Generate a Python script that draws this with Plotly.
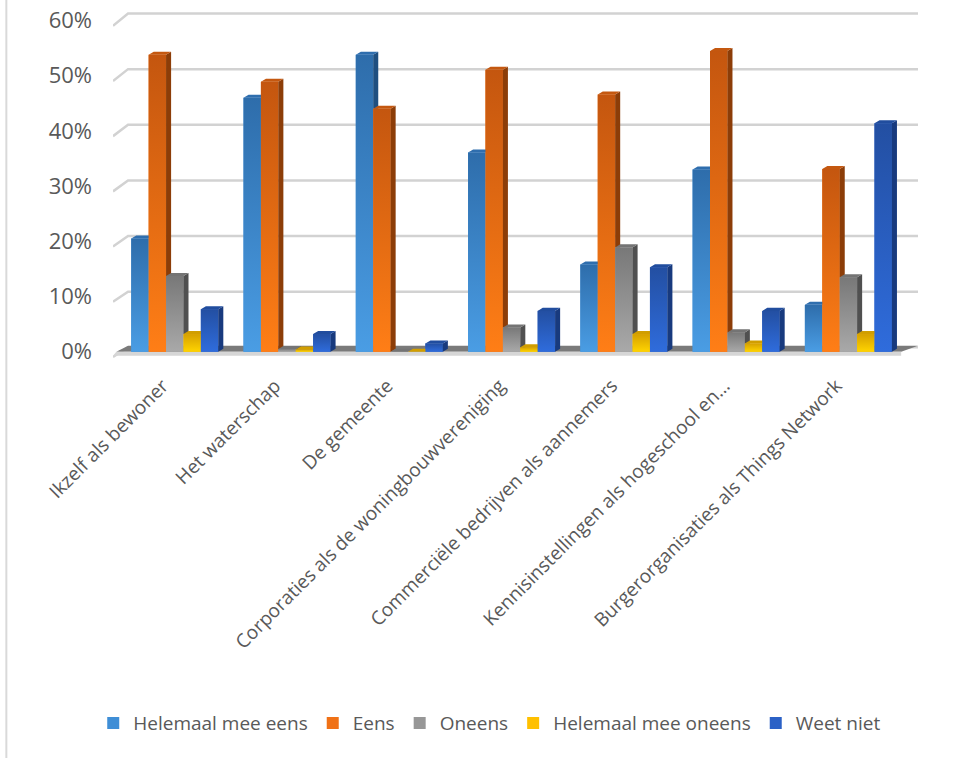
import plotly.graph_objects as go

# Survey: who should act (share of respondents per answer)
categories = [
    "Ikzelf als bewoner",
    "Het waterschap",
    "De gemeente",
    "Corporaties als de woningbouwvereniging",
    "Commerciële bedrijven als aannemers",
    "Kennisinstellingen als hogeschool en…",
    "Burgerorganisaties als Things Network",
]
series_names = ["Helemaal mee eens", "Eens", "Oneens", "Helemaal mee oneens", "Weet niet"]

helemaal_mee_eens = [20.5, 46.0, 53.8, 36.1, 15.8, 33.0, 8.5]
eens = [53.8, 48.9, 44.0, 51.1, 46.6, 54.5, 33.1]
oneens = [13.7, 0.5, 0.0, 4.4, 18.9, 3.5, 13.5]
helemaal_mee_oneens = [3.2, 0.4, 0.0, 0.8, 3.2, 1.5, 3.2]
weet_niet = [7.7, 3.2, 1.5, 7.4, 15.3, 7.4, 41.4]

y_ticks = [0, 10, 20, 30, 40, 50, 60]
y_tick_labels = ["0%", "10%", "20%", "30%", "40%", "50%", "60%"]

values = [helemaal_mee_eens, eens, oneens, helemaal_mee_oneens, weet_niet]

# face colours per series: front (legend), gradient bottom/top, side, top
front_cols = ["#3f8ed6", "#f07116", "#979797", "#ffc000", "#2b61c6"]
grad_bottom = ["#4a9de4", "#ff7e16", "#a9a9a9", "#ffd400", "#2f6cdc"]
grad_top = ["#2e6dab", "#c4560f", "#787878", "#d6a000", "#234fa2"]
side_cols = ["#1f4f80", "#8c3d08", "#505050", "#a07800", "#183a7e"]
top_cols = ["#2f6eae", "#c45810", "#747474", "#d19e00", "#214d9e"]

BARGAP = 0.225
W = (1 - BARGAP) / 5      # bar width in axis units
DX = 0.045                # depth offset (x)
DY = 0.55                 # depth offset (y, percent)
X0, X1 = -0.55, 6.62

fig = go.Figure()

x_pos = list(range(len(categories)))
for j, name in enumerate(series_names):
    fig.add_trace(go.Bar(
        x=x_pos, y=values[j], name=name,
        marker=dict(color=front_cols[j], line=dict(width=0)),
        hovertemplate="%{y:.1f}%<extra>" + name + "</extra>",
    ))

# shaded front faces plus 3-D side and top faces of each column
for j in range(5):
    sx, sy, tx, ty = [], [], [], []
    for i in range(len(categories)):
        v = values[j][i]
        xl = i + (j - 2.5) * W
        xr = xl + W
        if v > 0:
            fig.add_trace(go.Scatter(
                x=[xl, xr, xr, xl, xl], y=[0, 0, v, v, 0],
                mode="lines", fill="toself", line=dict(width=0),
                fillgradient=dict(type="vertical", start=0, stop=v,
                                  colorscale=[[0, grad_bottom[j]], [1, grad_top[j]]]),
                hoverinfo="skip", showlegend=False))
        vn = values[j + 1][i] if j < 4 else 0.0
        if j == 4 or vn < v:
            lo_f = vn if j < 4 else 0.0
            lo_b = max(lo_f, DY)
            sx += [xr, xr + DX, xr + DX, xr, xr, None]
            sy += [lo_f, lo_b, v + DY, v, lo_f, None]
        tx += [xl, xr, xr + DX, xl + DX, xl, None]
        ty += [v, v, v + DY, v + DY, v, None]
    fig.add_trace(go.Scatter(x=sx, y=sy, mode="lines", fill="toself",
                             fillcolor=side_cols[j], line=dict(width=0),
                             hoverinfo="skip", showlegend=False))
    fig.add_trace(go.Scatter(x=tx, y=ty, mode="lines", fill="toself",
                             fillcolor=top_cols[j], line=dict(width=0),
                             hoverinfo="skip", showlegend=False))

shapes = []
# back-wall gridlines with a short diagonal on the side wall
for v in y_ticks:
    back = v * 1.008 + 0.8
    shapes.append(dict(
        type="path", xref="x", yref="y", layer="below",
        path=f"M {X0},{v - 0.95} L {X0 + 0.134},{back} L {X1},{back}",
        line=dict(color="#d2d2d2", width=2.5),
    ))
# floor: dark top surface and light front edge
shapes.append(dict(
    type="path", xref="x", yref="y", layer="below",
    path=f"M {X0 + 0.03},0 L 6.47,0 L {X1},1.1 L {X0 + 0.134},1.1 Z",
    fillcolor="#7a7a7a", line=dict(width=0),
))
shapes.append(dict(
    type="path", xref="x", yref="y", layer="below",
    path=f"M {X0},-0.75 L 6.47,-0.75 L 6.47,0 L {X0 + 0.03},0 Z",
    fillcolor="#d6d6d6", line=dict(width=0),
))
# chart-area border on the left
shapes.append(dict(type="line", xref="paper", yref="paper",
                   x0=-0.1325, x1=-0.1325, y0=1.05, y1=-1.2,
                   line=dict(color="#d9d9d9", width=2)))

fig.update_layout(
    width=959, height=758,
    margin=dict(l=113, r=41, t=4, b=398),
    paper_bgcolor="white", plot_bgcolor="white",
    barmode="group", bargap=BARGAP, bargroupgap=0,
    font=dict(family="Open Sans", color="#595959", size=19),
    shapes=shapes,
    showlegend=True,
    legend=dict(orientation="h", x=0.468, xanchor="center",
                y=-1.02, yanchor="middle",
                font=dict(size=19, color="#595959"), itemwidth=30,
                tracegroupgap=0, traceorder="normal"),
    xaxis=dict(range=[X0, X1], tickmode="array", tickvals=x_pos, ticktext=categories,
               tickangle=-45, showgrid=False, zeroline=False, showline=False,
               ticks="", ticklabelshift=-12, ticklabelstandoff=10,
               tickfont=dict(size=19, color="#595959")),
    yaxis=dict(range=[-1.5, 63], tickmode="array", tickvals=y_ticks, ticktext=y_tick_labels,
               showgrid=False, zeroline=False, showline=False, ticks="",
               ticklabelstandoff=20, tickfont=dict(size=22, color="#595959")),
)

fig.write_html("out.html")
